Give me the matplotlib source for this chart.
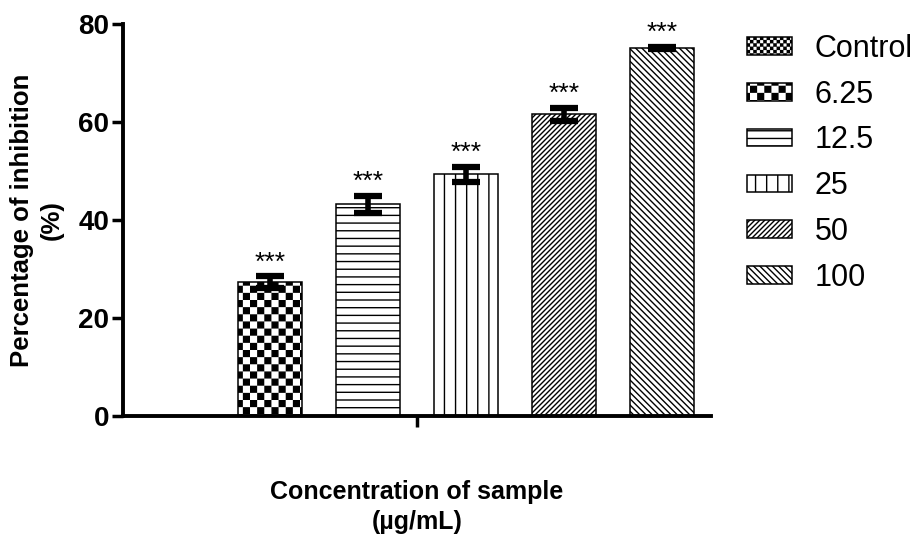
import numpy as np
import matplotlib
matplotlib.use('Agg')
import matplotlib.pyplot as plt
from matplotlib import hatch as mhatch
from matplotlib.path import Path

# ---------------- data ----------------
categories = ['Control', '6.25', '12.5', '25', '50', '100']
inhibition = [0.0, 27.3, 43.2, 49.3, 61.6, 75.1]
sem = [0.0, 1.2, 1.7, 1.5, 1.3, 0.3]
significance = ['', '***', '***', '***', '***', '***']
yticks = [0, 20, 40, 60, 80]

# hatch keys (remapped below to custom patterns)
hatches = ['.', 'o', '-', '|', '/', '\\']


# ---------------- custom hatch patterns ----------------
def make_lines(char, n, kind):
    class _Lines(mhatch.HatchPatternBase):
        def __init__(self, hatch, density):
            self.on = char in hatch
            segs = n + 1 if kind in ('h', 'v') else 2 * n + 1
            self.num_vertices = 2 * segs if self.on else 0

        def set_vertices_and_codes(self, vertices, codes):
            if kind == 'h':
                t = np.arange(n + 1) / n
                start = np.column_stack([np.zeros_like(t), t])
                end = np.column_stack([np.ones_like(t), t])
            elif kind == 'v':
                t = np.arange(n + 1) / n
                start = np.column_stack([t, np.zeros_like(t)])
                end = np.column_stack([t, np.ones_like(t)])
            elif kind == 'ne':
                k = np.arange(-n, n + 1) / n
                start = np.column_stack([k, np.zeros_like(k)])
                end = np.column_stack([k + 1, np.ones_like(k)])
            else:  # 'nw'
                k = np.arange(0, 2 * n + 1) / n
                start = np.column_stack([k, np.zeros_like(k)])
                end = np.column_stack([k - 1, np.ones_like(k)])
            vertices[0::2] = start
            vertices[1::2] = end
            codes[0::2] = Path.MOVETO
            codes[1::2] = Path.LINETO
    return _Lines


def make_checker(char, n, inset):
    cells = [(i, j) for i in range(n) for j in range(n) if (i + j) % 2 == 0]

    class _Checker(mhatch.HatchPatternBase):
        def __init__(self, hatch, density):
            self.on = char in hatch
            self.num_vertices = 5 * len(cells) if self.on else 0

        def set_vertices_and_codes(self, vertices, codes):
            s = 1.0 / n
            d = inset
            for idx, (i, j) in enumerate(cells):
                x0, x1 = i * s + d, (i + 1) * s - d
                y0, y1 = j * s + d, (j + 1) * s - d
                vertices[5 * idx:5 * idx + 5] = [[x0, y0], [x1, y0], [x1, y1],
                                                 [x0, y1], [x0, y0]]
                codes[5 * idx:5 * idx + 5] = [Path.MOVETO, Path.LINETO,
                                              Path.LINETO, Path.LINETO,
                                              Path.CLOSEPOLY]
    return _Checker


mhatch._hatch_types[:] = [
    make_checker('.', 30, 0.006),
    make_checker('o', 14, 0.007),
    make_lines('-', 13, 'h'),
    make_lines('|', 9, 'v'),
    make_lines('/', 20, 'ne'),
    make_lines('\\', 16, 'nw'),
]

# ---------------- figure ----------------
plt.rcParams['font.family'] = ['Liberation Sans', 'DejaVu Sans']
plt.rcParams['hatch.linewidth'] = 1.0

W, H = 920, 535
fig = plt.figure(figsize=(W / 100, H / 100), dpi=100)
ax = fig.add_axes([123 / W, 1 - 416 / H, (711 - 123) / W, (416 - 24) / H])

x = np.arange(len(categories))
for i, cat in enumerate(categories):
    ax.bar(x[i], inhibition[i], width=0.66, color='white', edgecolor='black',
           linewidth=1.1, hatch=hatches[i], label=cat, zorder=2)

ax.errorbar(x[1:], inhibition[1:], yerr=sem[1:], fmt='none', ecolor='black',
            elinewidth=4, capsize=10, capthick=4.5, zorder=3)

for i in range(1, len(categories)):
    ax.text(x[i], inhibition[i] + sem[i] + 0.4, significance[i], ha='center',
            va='bottom', fontsize=19, color='black')

ax.set_xlim(-0.5, 5.5)
ax.set_ylim(0, 80)
ax.set_yticks(yticks)
ax.set_yticklabels([str(v) for v in yticks], fontsize=20, fontweight='bold')
ax.set_xticks([2.5])
ax.set_xticklabels([''])

for side in ('top', 'right'):
    ax.spines[side].set_visible(False)
for side in ('left', 'bottom'):
    ax.spines[side].set_linewidth(2.8)

ax.tick_params(axis='y', direction='out', length=8, width=2.5, pad=2)
ax.tick_params(axis='x', direction='out', length=8, width=2.5)

ax.set_ylabel('Percentage of inhibition\n(%)', fontsize=18.5, fontweight='bold',
              linespacing=1.3)
ax.yaxis.set_label_coords(-0.100, 0.5)
ax.set_xlabel('Concentration of sample\n(µg/mL)', fontsize=18,
              fontweight='bold', linespacing=1.3)
ax.xaxis.set_label_coords(0.5, -0.164)

leg = ax.legend(loc='upper left', bbox_to_anchor=(747 / W, 1 - 34 / H),
                bbox_transform=fig.transFigure, frameon=False, fontsize=22,
                handlelength=1.47, handleheight=0.5, handletextpad=0.75,
                labelspacing=0.515, borderpad=0, borderaxespad=0)

fig.savefig('out.png', dpi=100)
